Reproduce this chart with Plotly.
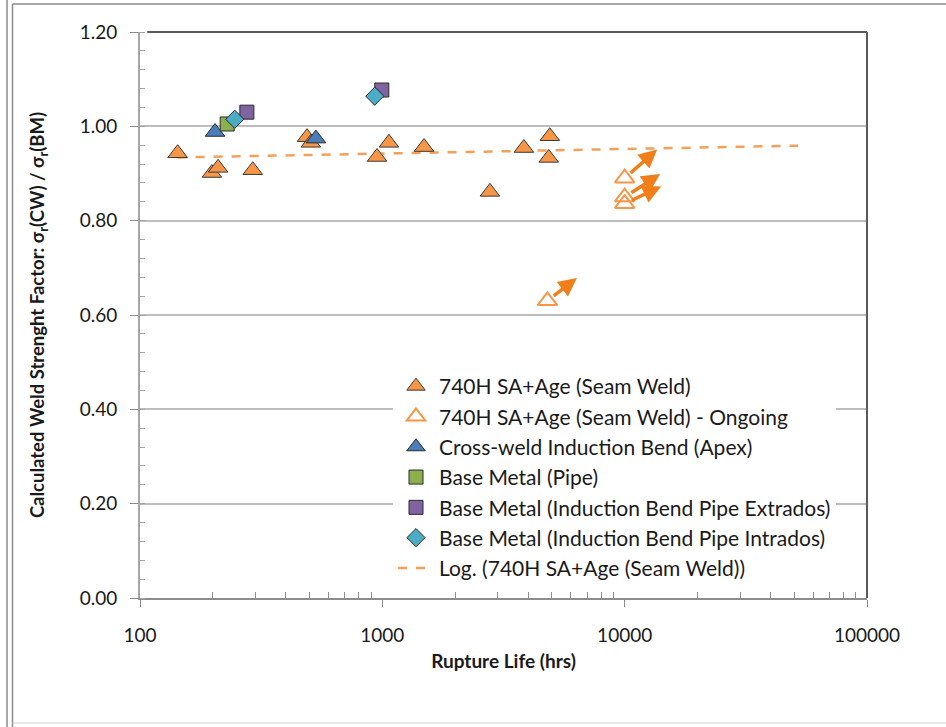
import numpy as np
import plotly.graph_objects as go

# ---------------- data ----------------
sw_x = [143, 198, 210, 292, 489, 507, 951, 1065, 1486, 2780, 3838, 4910, 4860]
sw_y = [0.943, 0.901, 0.912, 0.907, 0.977, 0.965, 0.935, 0.965, 0.956, 0.861, 0.954, 0.979, 0.933]

ongoing_x = [10000, 10000, 10000, 4800]
ongoing_y = [0.890, 0.850, 0.836, 0.630]
# arrow offsets (pixels) from each ongoing point to its arrow head
arrow_dx = [34, 37, 38, 31]
arrow_dy = [-30, -24, -18, -24]

apex_x = [204, 532]
apex_y = [0.988, 0.974]

pipe_x = [229]
pipe_y = [1.005]

extrados_x = [276, 995]
extrados_y = [1.030, 1.077]

intrados_x = [246, 931]
intrados_y = [1.015, 1.064]

trend_x = [143, 52000]
trend_y = [0.934, 0.959]

x_ticks = [100, 1000, 10000, 100000]
x_ticktext = ["100", "1000", "10000", "100000"]

# ---------------- figure ----------------
FONT = "Lato"
fig = go.Figure()

fig.add_trace(go.Scatter(
    x=trend_x, y=trend_y, mode="lines",
    name="Log. (740H SA+Age (Seam Weld))",
    line=dict(color="#F5A05A", width=2.5, dash="dash"),
    legendrank=7))

fig.add_trace(go.Scatter(
    x=sw_x, y=sw_y, mode="markers", name="740H SA+Age (Seam Weld)",
    marker=dict(symbol="triangle-up", size=17, color="#F79646",
                line=dict(color="#3a3a3a", width=1)),
    legendrank=1))

fig.add_trace(go.Scatter(
    x=ongoing_x, y=ongoing_y, mode="markers",
    name="740H SA+Age (Seam Weld) - Ongoing",
    marker=dict(symbol="triangle-up-open", size=17, color="#F79646",
                line=dict(color="#F79646", width=2)),
    legendrank=2))

fig.add_trace(go.Scatter(
    x=apex_x, y=apex_y, mode="markers", name="Cross-weld Induction Bend (Apex)",
    marker=dict(symbol="triangle-up", size=17, color="#4A7EBB",
                line=dict(color="#2a2a2a", width=1)),
    legendrank=3))

fig.add_trace(go.Scatter(
    x=pipe_x, y=pipe_y, mode="markers", name="Base Metal (Pipe)",
    marker=dict(symbol="square", size=14, color="#8DB04E",
                line=dict(color="#2a2a2a", width=1)),
    legendrank=4))

fig.add_trace(go.Scatter(
    x=extrados_x, y=extrados_y, mode="markers",
    name="Base Metal (Induction Bend Pipe Extrados)",
    marker=dict(symbol="square", size=14, color="#8064A2",
                line=dict(color="#2a2a2a", width=1)),
    legendrank=5))

fig.add_trace(go.Scatter(
    x=intrados_x, y=intrados_y, mode="markers",
    name="Base Metal (Induction Bend Pipe Intrados)",
    marker=dict(symbol="diamond", size=14, color="#4BACC6",
                line=dict(color="#2a2a2a", width=1)),
    legendrank=6))

# arrows for ongoing tests
for xv, yv, dx, dy in zip(ongoing_x, ongoing_y, arrow_dx, arrow_dy):
    fig.add_annotation(
        x=np.log10(xv), y=yv, xref="x", yref="y",
        ax=dx, ay=dy, text="", showarrow=True,
        arrowside="start", startarrowhead=2, startarrowsize=1.05,
        arrowwidth=3.5, arrowcolor="#F07F1A", standoff=8)

# plot-area border (top & right) and darker gridlines
shapes = [
    dict(type="line", xref="paper", yref="paper", x0=0.01, x1=1, y0=1, y1=1,
         line=dict(color="#5a5a5a", width=2)),
    dict(type="line", xref="paper", yref="paper", x0=1, x1=1, y0=0, y1=1,
         line=dict(color="#5a5a5a", width=2)),
]
for gy in [1.0, 0.8]:
    shapes.append(dict(type="line", xref="paper", yref="y", x0=0, x1=1, y0=gy, y1=gy,
                       line=dict(color="#8c8c8c", width=1.5), layer="below"))
# outer frame
W, H = 946, 727
L, R, T, B = 140, 79, 32, 129
pw, ph = W - L - R, H - T - B
def px(xp): return (xp - L) / pw
def py(yp): return (H - B - yp) / ph
shapes.append(dict(type="line", xref="paper", yref="paper", x0=px(7), x1=px(7),
                   y0=py(0), y1=py(727), line=dict(color="#8a8a8a", width=1.5)))
shapes.append(dict(type="line", xref="paper", yref="paper", x0=px(12.5), x1=px(12.5),
                   y0=py(4), y1=py(727), line=dict(color="#8a8a8a", width=1.5)))
shapes.append(dict(type="line", xref="paper", yref="paper", x0=px(12.5), x1=px(946),
                   y0=py(4), y1=py(4), line=dict(color="#8a8a8a", width=1.5)))
shapes.append(dict(type="line", xref="paper", yref="paper", x0=px(12.5), x1=px(946),
                   y0=py(723), y1=py(723), line=dict(color="#d0d0d0", width=1)))

minor_vals = [m * 10 ** d for d in range(2, 5) for m in range(2, 10)]

fig.update_layout(
    width=W, height=H,
    margin=dict(l=L, r=R, t=T, b=B),
    paper_bgcolor="white", plot_bgcolor="white",
    font=dict(family=FONT, size=18, color="#1a1a1a"),
    shapes=shapes,
    showlegend=True,
    legend=dict(x=px(393), y=py(366), xanchor="left", yanchor="top",
                bgcolor="white", font=dict(family=FONT, size=21, color="#1a1a1a"),
                itemwidth=36, tracegroupgap=0),
    xaxis=dict(
        type="log", range=[2, 5],
        tickvals=x_ticks, ticktext=x_ticktext,
        ticks="outside", ticklen=7, tickcolor="#8c8c8c",
        showline=True, linecolor="#8c8c8c", linewidth=2,
        showgrid=False, zeroline=False,
        tickfont=dict(family=FONT, size=19),
        ticklabelstandoff=12,
        minor=dict(tickvals=minor_vals, ticks="inside", ticklen=6, tickcolor="#8c8c8c",
                   showgrid=False),
        title=dict(text="<b>Rupture Life (hrs)</b>", font=dict(family=FONT, size=19),
                   standoff=10),
    ),
    yaxis=dict(
        range=[0, 1.2], dtick=0.2, tickformat=".2f",
        ticks="outside", ticklen=8, tickcolor="#8c8c8c",
        showline=True, linecolor="#a6a6a6", linewidth=2,
        showgrid=True, gridcolor="#bdbdbd", gridwidth=1.5,
        zeroline=False,
        tickfont=dict(family=FONT, size=19),
        ticklabelstandoff=9,
        minor=dict(dtick=0.04, ticks="inside", ticklen=5, tickcolor="#a6a6a6",
                   showgrid=False),
        title=dict(text="<b>Calculated Weld Strenght Factor: σ<sub>r</sub>(CW) / σ<sub>r</sub>(BM)</b>",
                   font=dict(family=FONT, size=18.5), standoff=30),
    ),
)

fig.write_html("out.html")
